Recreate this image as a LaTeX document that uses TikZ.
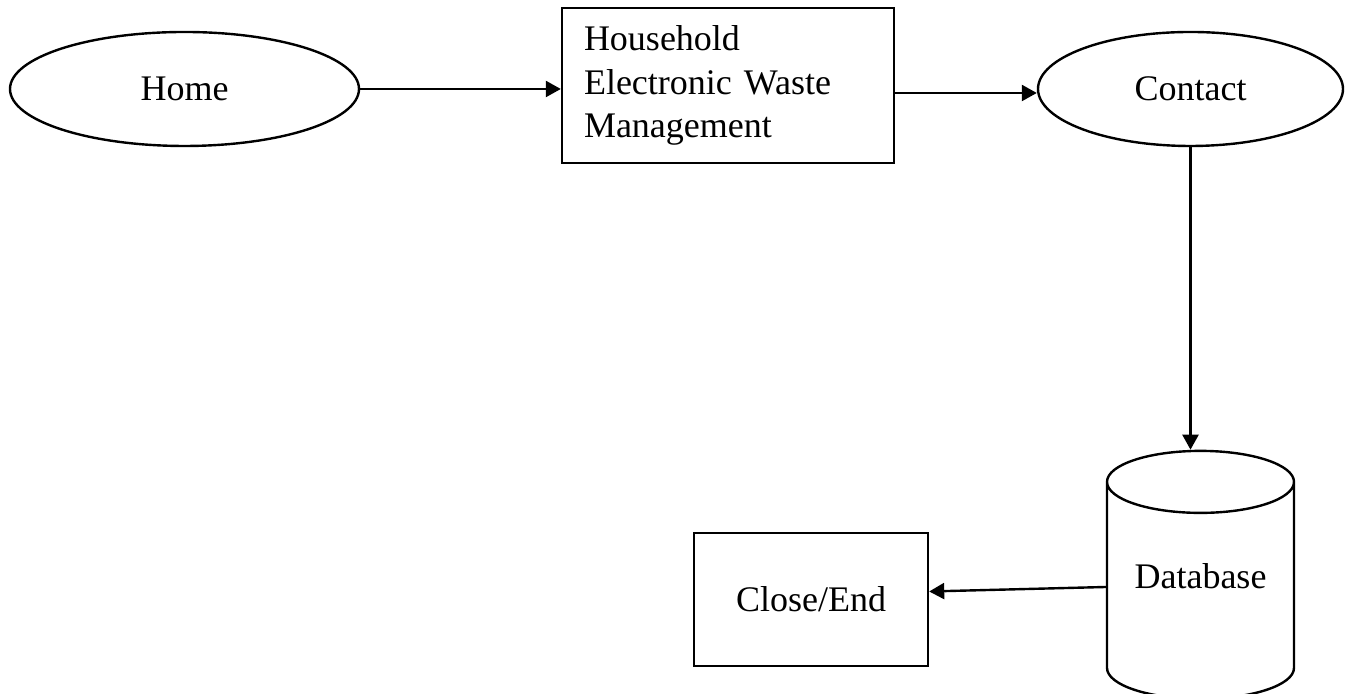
\documentclass[tikz,border=0pt]{standalone}
\usepackage{fontspec}
\setmainfont{Liberation Serif}
\usetikzlibrary{shapes.geometric,arrows.meta,positioning,calc}

\tikzset{
    oval/.style={draw, ellipse, inner sep=0pt, minimum height=57pt},
    procbox/.style={draw, rectangle, inner sep=0pt},
    flow/.style={-{Triangle[length=7.5pt,width=8pt]}}
}

\begin{document}
\begin{tikzpicture}[x=0.5pt, y=0.5pt, line width=1.2pt,
    every node/.style={font=\fontsize{18pt}{21.75pt}\selectfont}]
    \useasboundingbox (0,0) rectangle (1351,694);

    % Start page
    \node[oval, minimum width=174.5pt] (home) at (184.5,605) {Home};

    % Main process
    \node[procbox, minimum width=166pt, minimum height=77.5pt, text width=144pt, align=left] (hewm) at (728,608.5) {Household\\Electronic Waste\\Management};

    % Contact page
    \node[oval, minimum width=152.5pt] (contact) at (1190.5,605) {Contact};

    % Storage
    \node[draw, cylinder, shape border rotate=90, aspect=0.47, minimum width=93.5pt, minimum height=124pt, inner sep=0pt, text depth=15pt] (db) at (1200.5,103) {Database};

    % End
    \node[procbox, minimum width=117pt, minimum height=66.5pt] (close) at (811,94.5) {Close/End};

    % Flow
    \draw[flow] (home.east) -- (home.east -| hewm.west);
    \draw[flow] ([yshift=-3.75pt]hewm.east) -- ([yshift=-2pt]contact.west);
    \draw[flow] (contact.south) -- (contact.south |- db.north);
    \draw[flow] ([yshift=2pt]db.west) -- ([yshift=4pt]close.east);
\end{tikzpicture}
\end{document}
